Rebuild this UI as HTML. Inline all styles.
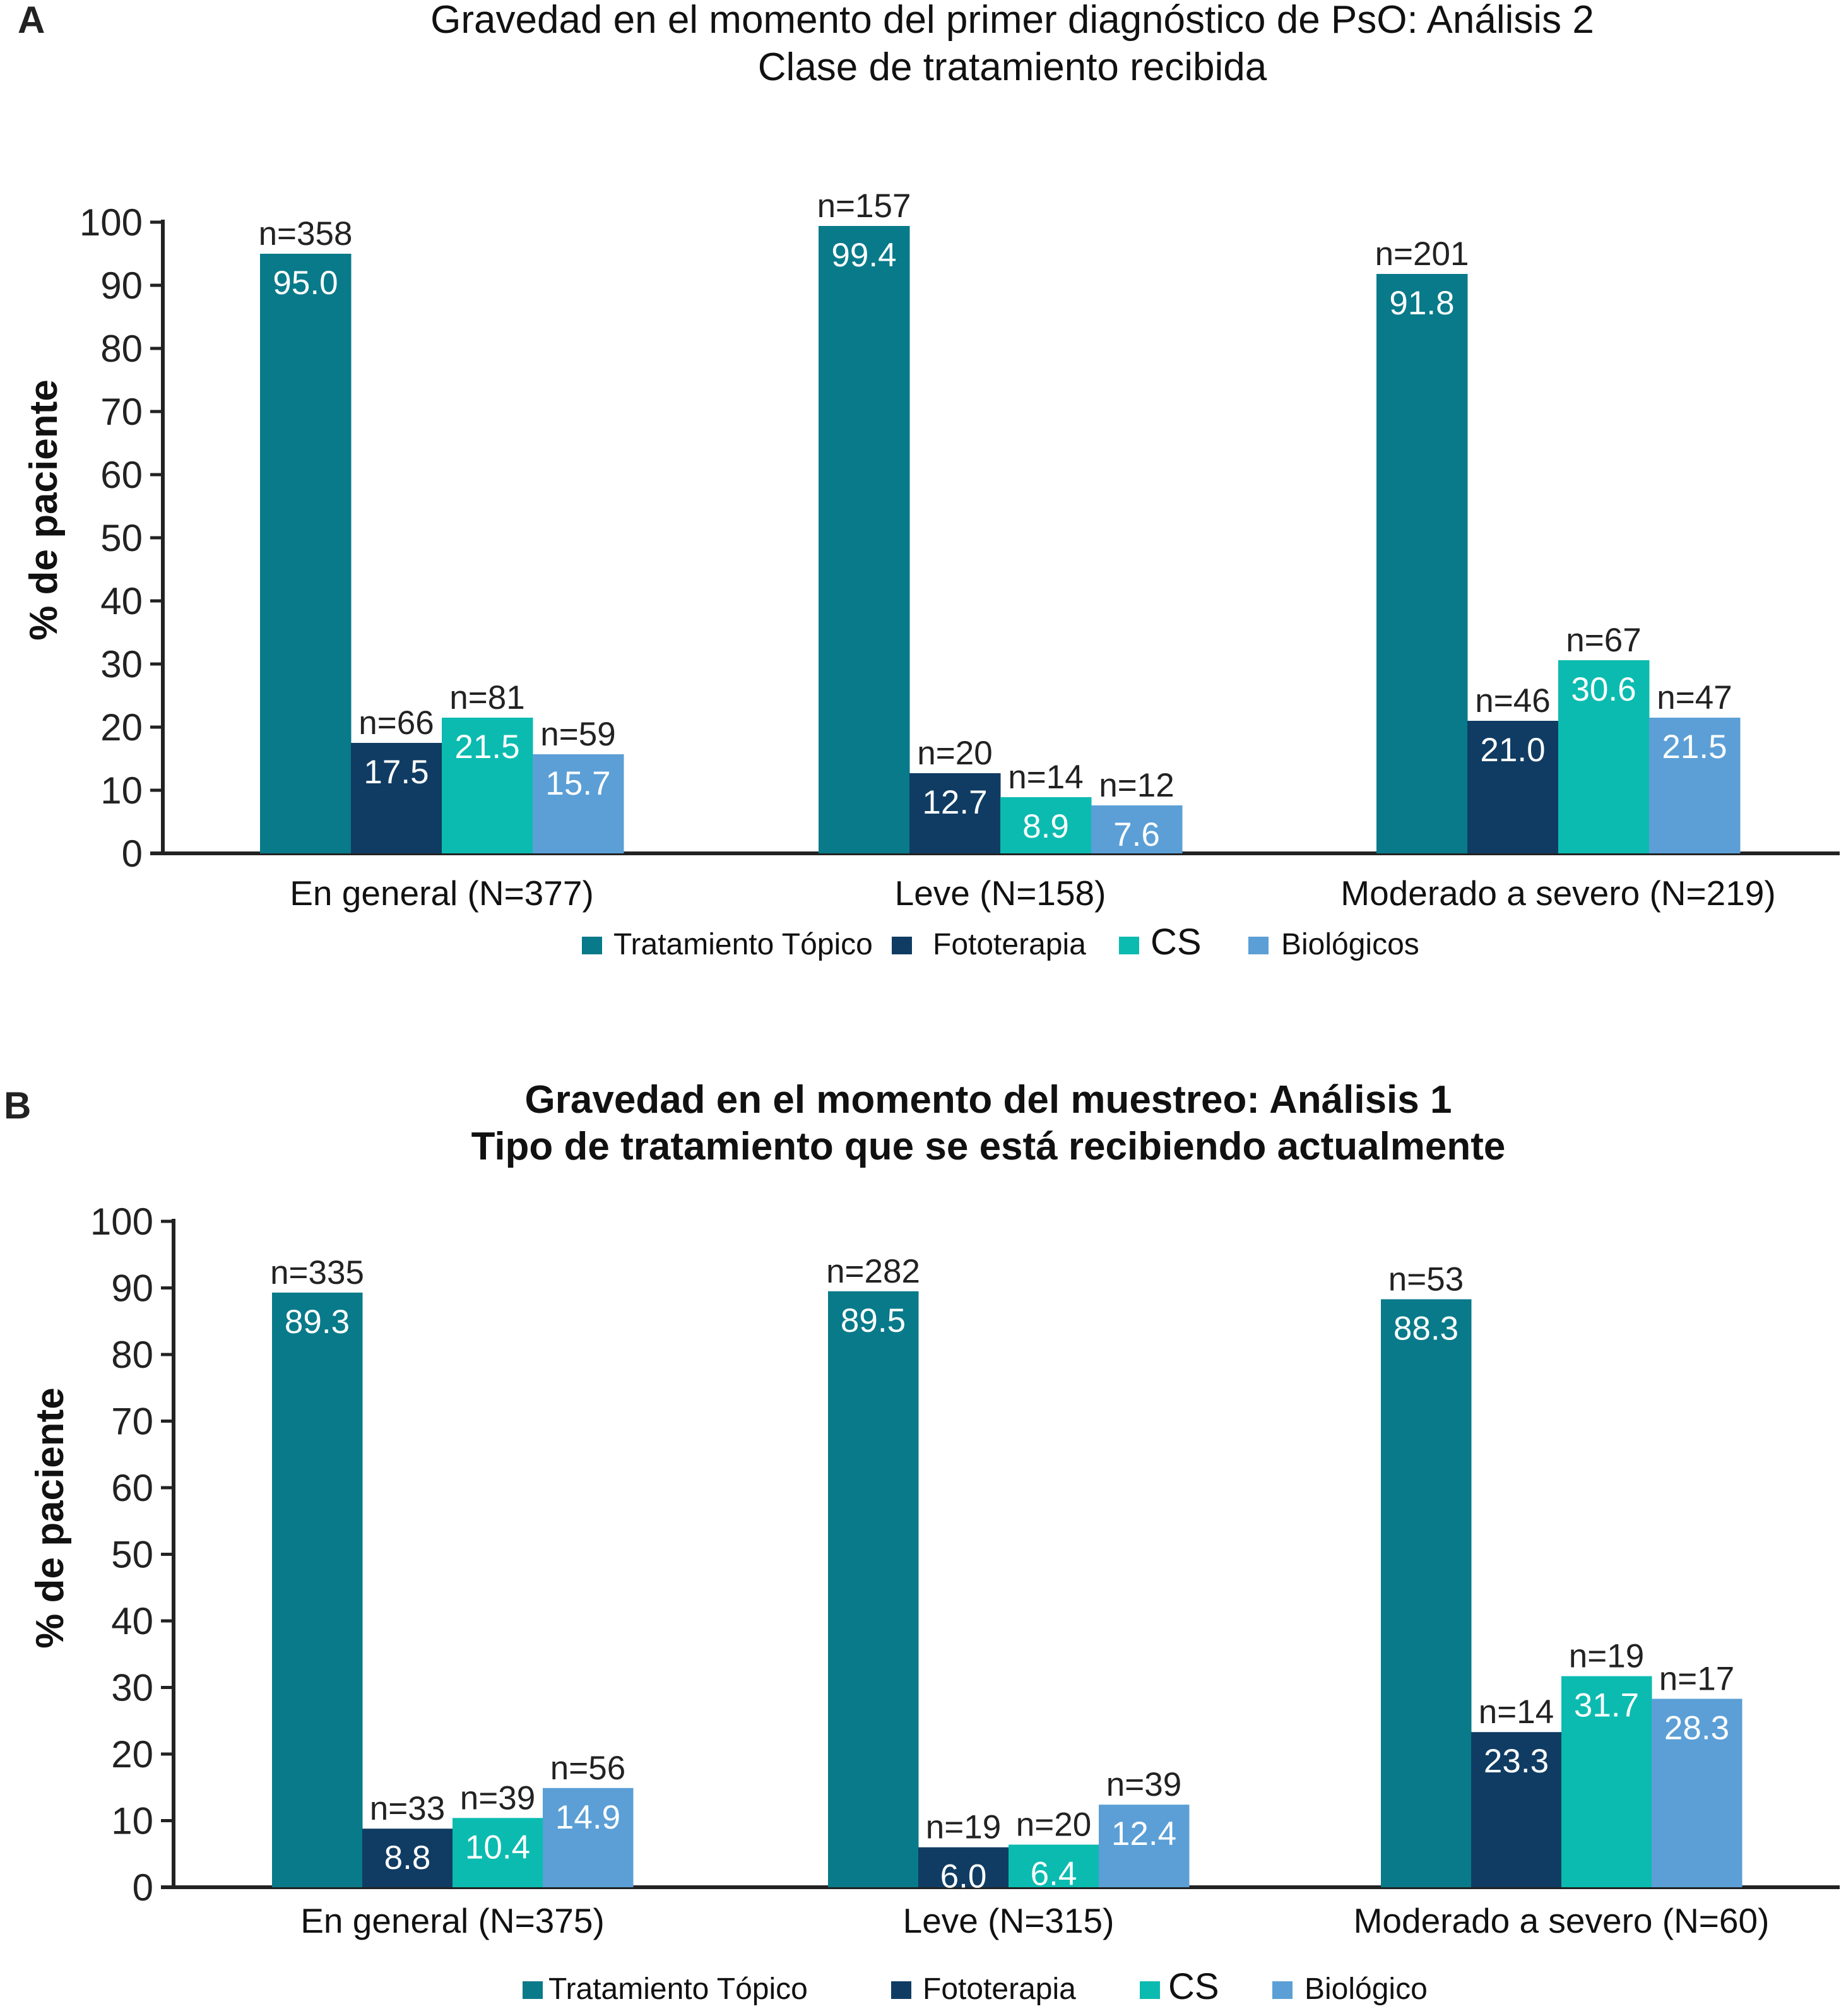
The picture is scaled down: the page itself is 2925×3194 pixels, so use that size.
<!DOCTYPE html>
<html><head><meta charset="utf-8">
<style>
html,body{margin:0;padding:0;background:#fff;}
svg{display:block;font-family:"Liberation Sans",Arial,sans-serif;}
</style></head>
<body>
<svg id="chart" width="2925" height="3194" viewBox="0 0 2925 3194" xmlns="http://www.w3.org/2000/svg">
<text x="28" y="52" font-size="60" font-weight="bold" fill="#222">A</text>
<text x="1604" y="52" font-size="62" text-anchor="middle" fill="#111">Gravedad en el momento del primer diagnóstico de PsO: Análisis 2</text>
<text x="1604" y="127" font-size="62" text-anchor="middle" fill="#111">Clase de tratamiento recibida</text>
<text x="6" y="1772" font-size="60" font-weight="bold" fill="#222">B</text>
<text x="1566" y="1763" font-size="62" font-weight="bold" text-anchor="middle" fill="#111">Gravedad en el momento del muestreo: Análisis 1</text>
<text x="1566" y="1837" font-size="62" font-weight="bold" text-anchor="middle" fill="#111">Tipo de tratamiento que se está recibiendo actualmente</text>
<g id="ga"></g>
<g id="gb"></g>
</svg>
<script>
const colors = ["#087a8a","#103c63","#0bbbb0","#5b9fd6"];
const ticks = [0,10,20,30,40,50,60,70,80,90,100];
const catsA = ["En general (N=377)","Leve (N=158)","Moderado a severo (N=219)"];
const topicoA = [95.0,99.4,91.8];
const fotoA = [17.5,12.7,21.0];
const csA = [21.5,8.9,30.6];
const bioA = [15.7,7.6,21.5];
const nTopicoA = [358,157,201];
const nFotoA = [66,20,46];
const nCsA = [81,14,67];
const nBioA = [59,12,47];
const legendA = ["Tratamiento Tópico","Fototerapia","CS","Biológicos"];
const catsB = ["En general (N=375)","Leve (N=315)","Moderado a severo (N=60)"];
const topicoB = [89.3,89.5,88.3];
const fotoB = [8.8,6.0,23.3];
const csB = [10.4,6.4,31.7];
const bioB = [14.9,12.4,28.3];
const nTopicoB = [335,282,53];
const nFotoB = [33,19,14];
const nCsB = [39,20,19];
const nBioB = [56,39,17];
const legendB = ["Tratamiento Tópico","Fototerapia","CS","Biológico"];

const NS="http://www.w3.org/2000/svg";
function mk(parent,tag,attrs,text){const e=document.createElementNS(NS,tag);for(const k in attrs)e.setAttribute(k,attrs[k]);if(text!==undefined)e.textContent=text;parent.appendChild(e);return e;}

function draw(g,cfg){
  const y=v=>cfg.y0-(v/100)*(cfg.y0-cfg.y100);
  const series=[cfg.s[0],cfg.s[1],cfg.s[2],cfg.s[3]];
  const ns=[cfg.n[0],cfg.n[1],cfg.n[2],cfg.n[3]];
  const ax=mk(g,'line',{x1:cfg.ax,y1:cfg.y100-4,x2:cfg.ax,y2:cfg.y0+3,stroke:'#222','stroke-width':6});
  
  
  const bx=mk(g,'line',{x1:cfg.ax-20,y1:cfg.y0,x2:2915,y2:cfg.y0,stroke:'#222','stroke-width':6});
  
  
  ticks.forEach(t=>{
    const tl=mk(g,'line',{x1:cfg.ax-20,y1:y(t),x2:cfg.ax,y2:y(t),stroke:'#222','stroke-width':5});
    
    
    const tt=mk(g,'text',{x:cfg.ax-32,y:y(t)+21,'font-size':60,'text-anchor':'end',fill:'#222'},String(t));
    
    
  });
  const yt=mk(g,'text',{x:0,y:0,'font-size':62,'font-weight':'bold','text-anchor':'middle',fill:'#111',transform:`translate(${cfg.ytx},${cfg.yty}) rotate(-90)`},'% de paciente');
  
  
  cfg.cats.forEach((c,i)=>{
    const gx=cfg.gx[i];
    for(let s=0;s<4;s++){
      const v=series[s][i];
      const x=gx+s*cfg.bw;
      const r=mk(g,'rect',{x:x,y:y(v),width:cfg.bw+0.5,height:cfg.y0-y(v),fill:colors[s]});
      
      
      const vt=mk(g,'text',{x:x+cfg.bw/2,y:y(v)+64,'font-size':53,'text-anchor':'middle',fill:'#fff'},v.toFixed(1));
      
      
      const nt=mk(g,'text',{x:x+cfg.bw/2,y:y(v)-14,'font-size':53,'text-anchor':'middle',fill:'#222'},'n='+ns[s][i]);
      
      
    }
    const ct=mk(g,'text',{x:gx+2*cfg.bw,y:cfg.caty,'font-size':55,'text-anchor':'middle',fill:'#111'},c);
    
    
  });
  cfg.legend.forEach((l,i)=>{
    const sq=mk(g,'rect',{x:cfg.lsq[i],y:cfg.ly-28,width:32,height:28,fill:colors[i]});
    
    
    const lt=mk(g,'text',{x:cfg.ltx[i],y:cfg.ly,'font-size':i==2?58:48,fill:'#111'},l);
    
    
  });
}
draw(document.getElementById('ga'),{y0:1352,y100:352,ax:258,bw:144,gx:[412,1297,2181],
  s:[topicoA,fotoA,csA,bioA],n:[nTopicoA,nFotoA,nCsA,nBioA],cats:catsA,caty:1434,
  ytx:90,yty:808,legend:legendA,ly:1512,lsq:[922,1413,1773,1978],ltx:[972,1478,1823,2030]});
draw(document.getElementById('gb'),{y0:2990,y100:1935,ax:275,bw:143,gx:[431,1312,2188],
  s:[topicoB,fotoB,csB,bioB],n:[nTopicoB,nFotoB,nCsB,nBioB],cats:catsB,caty:3062,
  ytx:100,yty:2405,legend:legendB,ly:3167,lsq:[828,1412,1806,2016],ltx:[869,1462,1851,2067]});
</script>
</body></html>
